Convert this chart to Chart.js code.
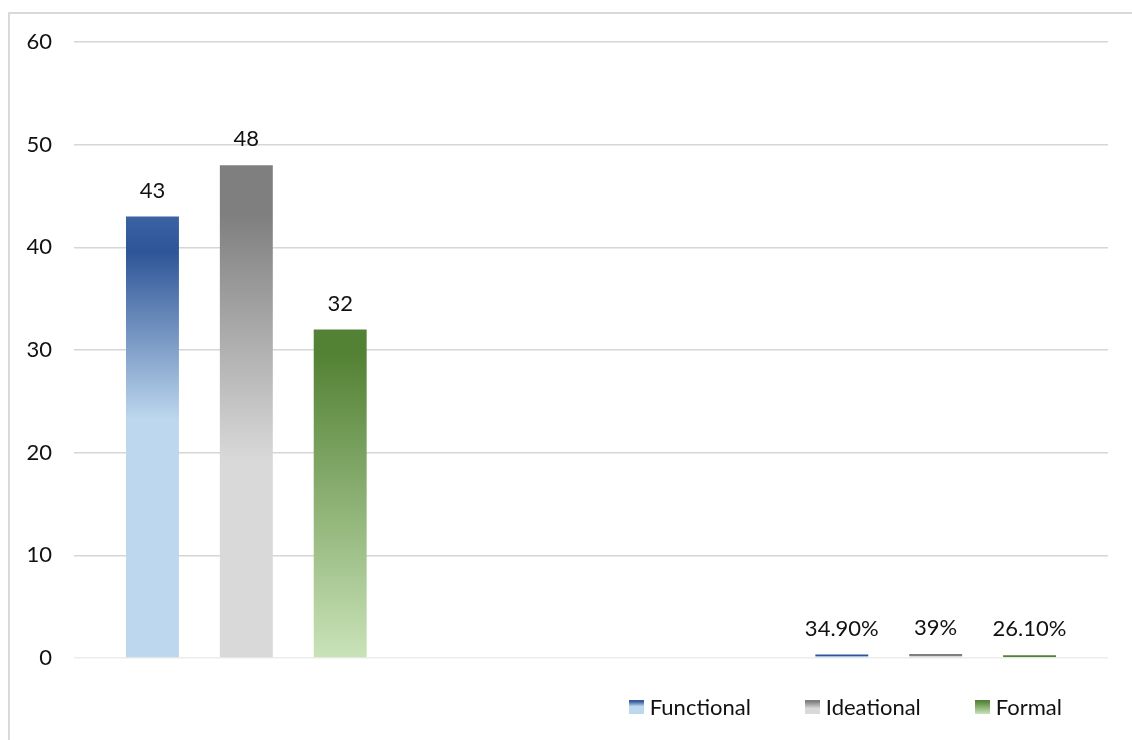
<!DOCTYPE html>
<html lang="en">
<head>
<meta charset="UTF-8">
<title>Functional / Ideational / Formal</title>
<script src="https://cdn.jsdelivr.net/npm/chart.js"></script>
<style>
  html, body { margin: 0; padding: 0; background: #fff; }
  body { width: 1132px; height: 740px; overflow: hidden; position: relative; font-family: Lato, "Noto Sans", sans-serif; }
  .frame { position: absolute; left: 8px; top: 12px; width: 1122px; height: 726px; border-left: 2px solid #d9d9d9; border-top: 2px solid #d9d9d9; }
  .legend { position: absolute; right: 70px; top: 694px; display: flex; gap: 54px; font-size: 22px; line-height: 26px; color: #111; }
  .legend .item { display: flex; align-items: center; }
  .legend i { display: inline-block; width: 15px; height: 14px; margin-right: 6px; }
</style>
</head>
<body>
<div class="frame">
  <canvas id="chart" width="1122" height="726"></canvas>
</div>
<div class="legend" id="legend"></div>

<script>
// data
const categories = ['', '', ''];
const seriesNames = ['Functional', 'Ideational', 'Formal'];
const functionalValues = [43, null, 0.349];
const ideationalValues = [48, null, 0.39];
const formalValues = [32, null, 0.261];
// labels as printed above the bars
const functionalText = ['43', '', '34.90%'];
const ideationalText = ['48', '', '39%'];
const formalText = ['32', '', '26.10%'];
const yTicks = [0, 10, 20, 30, 40, 50, 60];

// gradient fills (top -> bottom of each bar)
const fills = [
  [[0, '#3A62A4'], [0.08, '#2E5597'], [0.46, '#BDD7EE'], [1, '#BDD7EE']],
  [[0, '#7F7F7F'], [0.1, '#7F7F7F'], [0.6, '#D9D9D9'], [1, '#D9D9D9']],
  [[0, '#538135'], [0.08, '#548235'], [1, '#C9E3B8']]
];

function barFill(stops) {
  return function(c) {
    const chart = c.chart;
    if (!chart.chartArea || c.type !== 'data' || c.parsed == null || c.parsed.y == null) {
      return stops[1][1];
    }
    const y = chart.scales.y;
    const top = y.getPixelForValue(c.parsed.y);
    const base = y.getPixelForValue(0);
    const g = chart.ctx.createLinearGradient(0, top, 0, Math.max(base, top + 1));
    if (base - top < 8) {
      // very short bars: dark edge on top, pale below
      g.addColorStop(0, stops[1][1]);
      g.addColorStop(0.5, stops[1][1]);
      g.addColorStop(0.6, stops[stops.length - 1][1]);
      g.addColorStop(1, stops[stops.length - 1][1]);
      return g;
    }
    stops.forEach(s => g.addColorStop(s[0], s[1]));
    return g;
  };
}

// value labels above bars
const valueLabels = {
  id: 'valueLabels',
  afterDatasetsDraw(chart) {
    const ctx = chart.ctx;
    ctx.save();
    ctx.font = '22px Lato, "Noto Sans", sans-serif';
    ctx.fillStyle = '#111';
    ctx.textAlign = 'center';
    ctx.textBaseline = 'middle';
    chart.data.datasets.forEach((ds, i) => {
      chart.getDatasetMeta(i).data.forEach((bar, j) => {
        const t = ds.valueText[j];
        if (!t) return;
        ctx.fillText(t, bar.x, bar.y - 26);
      });
    });
    ctx.restore();
  }
};

const valueSets = [functionalValues, ideationalValues, formalValues];
const textSets = [functionalText, ideationalText, formalText];

const chart = new Chart(document.getElementById('chart'), {
  type: 'bar',
  data: {
    labels: categories,
    datasets: seriesNames.map((name, i) => ({
      label: name,
      data: valueSets[i],
      valueText: textSets[i],
      backgroundColor: barFill(fills[i]),
      borderWidth: 0,
      categoryPercentage: 0.817,
      barPercentage: 0.564
    }))
  },
  options: {
    responsive: false,
    animation: false,
    layout: { padding: { top: 28, right: 24, bottom: 82, left: 0 } },
    plugins: {
      legend: { display: false },
      tooltip: { enabled: false }
    },
    scales: {
      x: {
        grid: { display: false },
        border: { display: false },
        ticks: { display: false },
        afterFit: s => { s.height = 0; }
      },
      y: {
        min: 0,
        max: 60,
        afterBuildTicks: s => { s.ticks = yTicks.map(v => ({ value: v })); },
        afterFit: s => { s.width = 64; s.paddingTop = 0; s.paddingBottom = 0; },
        border: { display: false },
        grid: {
          drawTicks: false,
          lineWidth: 1.5,
          color: c => (c.tick && c.tick.value === 0) ? '#ececec' : '#d6d6d6'
        },
        ticks: {
          padding: 22,
          color: '#111',
          font: { family: 'Lato, "Noto Sans", sans-serif', size: 22 }
        }
      }
    }
  },
  plugins: [valueLabels]
});

// html legend
const legendEl = document.getElementById('legend');
seriesNames.forEach((name, i) => {
  const item = document.createElement('span');
  item.className = 'item';
  const sw = document.createElement('i');
  sw.style.background = 'linear-gradient(to bottom, ' +
    fills[i].map(s => s[1] + ' ' + Math.round(s[0] * 100) + '%').join(', ') + ')';
  item.appendChild(sw);
  item.appendChild(document.createTextNode(name));
  legendEl.appendChild(item);
});
</script>
</body>
</html>
